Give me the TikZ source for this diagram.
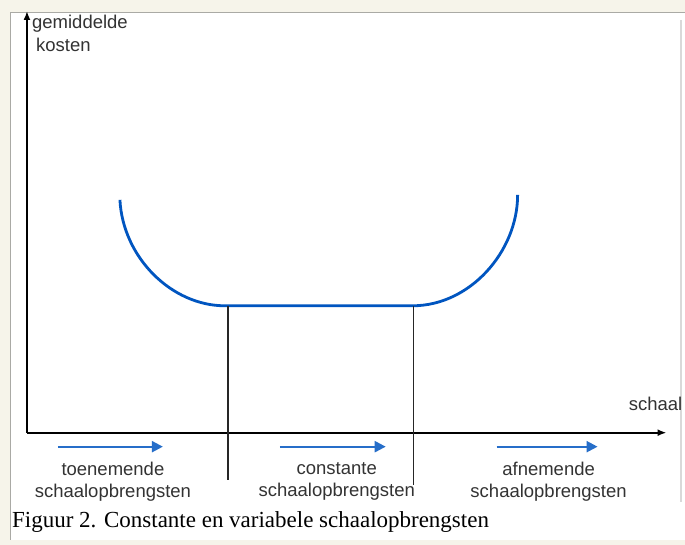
\documentclass[tikz,border=0pt]{standalone}
\usepackage{fontspec}
\setmainfont{Liberation Sans}
\newfontfamily\capfont{Liberation Serif}
\usetikzlibrary{arrows.meta}
\definecolor{curveblue}{RGB}{0,85,192}
\definecolor{framebg}{RGB}{246,244,234}
\definecolor{framegray}{RGB}{170,170,165}
\tikzset{
  axis/.style={-{Latex[length=9pt,width=7pt]}, line width=1.8pt},
  border/.style={black!85, line width=1.5pt},
  trend/.style={-{Triangle[length=11pt,width=11pt]}, curveblue!85!white, line width=2.2pt},
  lbl/.style={font=\fontsize{18.5}{22}\selectfont, text=black!80, align=center, inner sep=0pt}
}
\begin{document}
\begin{tikzpicture}[x=1pt,y=-1pt]
% frame
\fill[framebg] (0,0) rectangle (685,545);
\fill[white] (11,13) rectangle (685,540);
\draw[framegray, line width=1pt] (10.5,540) -- (10.5,12.5) -- (685,12.5);
\draw[black!15, line width=2pt] (681,20) -- (681,502);
\useasboundingbox (0,0) rectangle (685,545);

% axes
\coordinate (O) at (27,433);
\coordinate (ytop) at (27,11);
\coordinate (xend) at (667,433);
\draw[axis] (O) -- (ytop);
\draw[axis] (O) -- (xend);
\node[lbl, anchor=base west, align=left, font=\fontsize{18.5}{23}\selectfont] (ylab) at (32,52) {gemiddelde\\\hspace{4pt}kosten};
\node[lbl, anchor=base east] (xlab) at (683,411) {schaal};

% cost curve
\coordinate (c1) at (120,200);
\coordinate (c2) at (225,306);
\coordinate (c3) at (413,306);
\coordinate (c4) at (518,195);
\draw[curveblue, line width=2.8pt] (c1) .. controls (123,258) and (172,306) .. (c2)
  -- (c3) .. controls (470,306) and (518,252) .. (c4);

% boundaries
\coordinate (b1) at (228,480);
\coordinate (b2) at (414,485);
\draw[border] (c2 -| b1) -- (b1);
\draw[border] (c3 -| b2) -- (b2);

% phases
\coordinate (a1) at (58,447);  \coordinate (e1) at (163,447);
\coordinate (a2) at (280,447); \coordinate (e2) at (386,447);
\coordinate (a3) at (497,447); \coordinate (e3) at (598,447);
\draw[trend] (a1) -- (e1);
\draw[trend] (a2) -- (e2);
\draw[trend] (a3) -- (e3);
\node[lbl] (p1) at (113,482) {toenemende\\schaalopbrengsten};
\node[lbl] (p2) at (337,482) {constante\\schaalopbrengsten};
\node[lbl] (p3) at (549,482) {afnemende\\schaalopbrengsten};

% caption
\node[anchor=base west, inner sep=0pt, font=\capfont\fontsize{23}{25}\selectfont] (cap) at (12,528)
  {Figuur 2. Constante en variabele schaalopbrengsten};
\end{tikzpicture}
\end{document}
